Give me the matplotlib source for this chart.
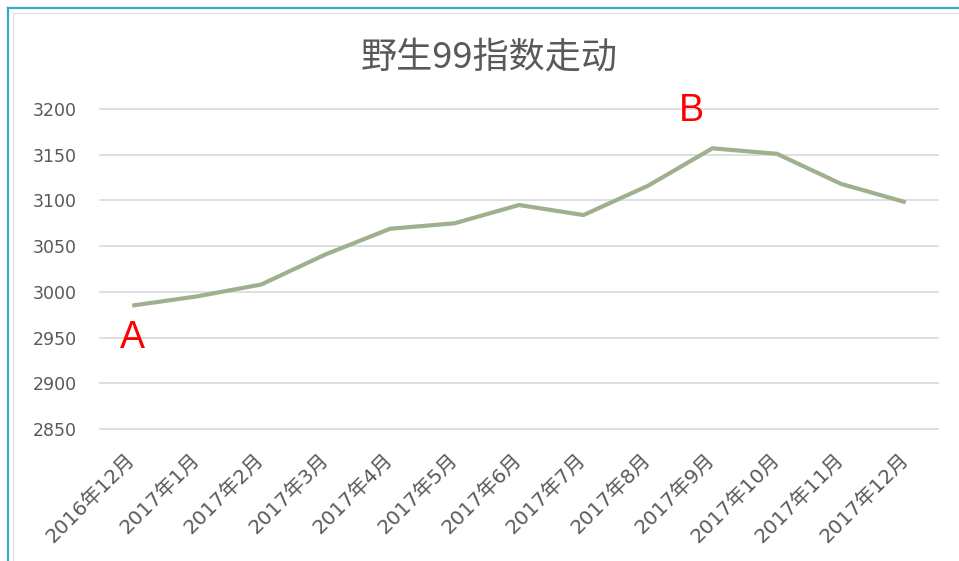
import matplotlib
matplotlib.use("Agg")
import matplotlib.pyplot as plt
from matplotlib.lines import Line2D

plt.rcParams['font.family'] = ['Noto Sans CJK SC', 'DejaVu Sans']

# data
months = ["2016年12月", "2017年1月", "2017年2月", "2017年3月", "2017年4月",
          "2017年5月", "2017年6月", "2017年7月", "2017年8月", "2017年9月",
          "2017年10月", "2017年11月", "2017年12月"]
index_values = [2985, 2995, 3008, 3041, 3069, 3075, 3095, 3084, 3116, 3157,
                3151, 3118, 3098]
y_ticks = [2850, 2900, 2950, 3000, 3050, 3100, 3150, 3200]

grey = "#595959"
tick_font = ["DejaVu Sans", "Noto Sans CJK SC"]

fig = plt.figure(figsize=(9.59, 5.61), dpi=100)
ax = fig.add_axes([100 / 959, 1 - 429 / 561, 838 / 959, 320 / 561])

x = list(range(len(months)))
ax.plot(x, index_values, color="#9fb08e", linewidth=3, solid_capstyle="butt",
        solid_joinstyle="round", zorder=3)

ax.set_xlim(-0.5, len(months) - 0.5)
ax.set_ylim(2850, 3200)
ax.set_yticks(y_ticks)
ax.set_yticklabels([str(v) for v in y_ticks], color=grey, fontsize=12.5,
                   family=tick_font)
ax.set_xticks(x)
ax.set_xticklabels(months, rotation=45, ha="right", va="center",
                   rotation_mode="anchor", color=grey, fontsize=14.5,
                   family=tick_font)
ax.tick_params(axis="both", length=0)
ax.tick_params(axis="y", pad=17)
ax.tick_params(axis="x", pad=20)

for v in y_ticks:
    ax.axhline(v, color="#d9d9d9", linewidth=1.2, zorder=1, clip_on=False)
for s in ax.spines.values():
    s.set_visible(False)

ax.text(0, 2950, "A", color="red", fontsize=27, ha="center", va="center",
        family=["Liberation Sans", "DejaVu Sans"])
ax.text(8.67, 3198, "B", color="red", fontsize=27, ha="center", va="center",
        family=["Liberation Sans", "DejaVu Sans"])

fig.text(489 / 959, 1 - 57 / 561, "野生99指数走动", color=grey, fontsize=26,
         ha="center", va="center")

# screenshot frame: teal border with faint sheet lines
W, H = 959, 561
fig.add_artist(Line2D([8 / W, 8 / W], [0, 1 - 8 / H], color="#3aa9cf", lw=1.6,
                      transform=fig.transFigure))
fig.add_artist(Line2D([8 / W, 1], [1 - 8 / H, 1 - 8 / H], color="#3aa9cf", lw=1.6,
                      transform=fig.transFigure))
fig.add_artist(Line2D([13 / W, 13 / W], [0, 1 - 13 / H], color="#e3e3e3", lw=1,
                      transform=fig.transFigure))
fig.add_artist(Line2D([13 / W, 1], [1 - 13 / H, 1 - 13 / H], color="#e3e3e3", lw=1,
                      transform=fig.transFigure))

fig.savefig("out.png", dpi=100)
